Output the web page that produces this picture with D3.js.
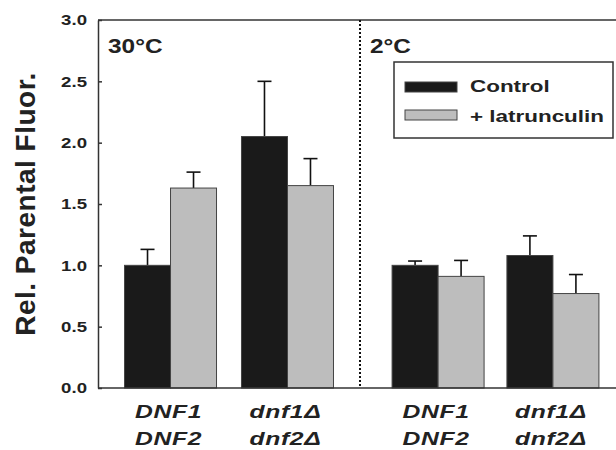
<!DOCTYPE html>
<html>
<head>
<meta charset="utf-8">
<script src="https://cdn.jsdelivr.net/npm/d3@7"></script>
<style>
  body { margin: 0; background: #fff; }
  text { font-family: "Liberation Sans", Arial, sans-serif; font-weight: bold; fill: #222; }
</style>
</head>
<body>
<div id="chart-container" style="width:616px;height:450px"></div>
<script>
// panels (temperature) and strains
let temps = ["30°C", "2°C"],
    strains = [["DNF1", "DNF2"], ["dnf1Δ", "dnf2Δ"]],
    series = ["Control", "+ latrunculin"],
    // values per panel, per strain
    controlVals = [[1.00, 2.05], [1.00, 1.08]],
    controlErr = [[0.13, 0.45], [0.035, 0.16]],
    latVals = [[1.63, 1.65], [0.91, 0.77]],
    latErr = [[0.13, 0.22], [0.13, 0.155]],
    yTicks = [0, 0.5, 1.0, 1.5, 2.0, 2.5, 3.0];

let svg = d3.select("#chart-container").append("svg").attr("width", 616).attr("height", 450),
    margin = { top: 20, left: 98, bottom: 62 },
    height = 450 - margin.top - margin.bottom,
    divider = 360,
    colors = ["#1a1a1a", "#bdbdbd"];

let y = d3.scaleLinear().domain([0, 3]).range([height + margin.top, margin.top]);

// one point scale per panel
let panels = [
    d3.scalePoint().domain([0, 1]).range([margin.left, divider]).padding(0.62),
    d3.scalePoint().domain([0, 1]).range([divider, 631]).padding(0.68)
];
let barW = 46;

// wide text, like the stretched original
function wideText(sel, x, yy, sx) {
    return sel.attr("transform", `translate(${x},${yy}) scale(${sx},1)`);
}

panels.forEach((x, p) => {
    let g = svg.append("g");
    [0, 1].forEach(i => {
        let cx = x(i);
        let bars = [
            { v: controlVals[p][i], e: controlErr[p][i], x0: cx - barW, c: colors[0] },
            { v: latVals[p][i], e: latErr[p][i], x0: cx, c: colors[1] }
        ];
        bars.forEach(b => {
            g.append("line")
                .attr("x1", b.x0 + barW / 2).attr("x2", b.x0 + barW / 2)
                .attr("y1", y(b.v)).attr("y2", y(b.v + b.e))
                .attr("stroke", "#111").attr("stroke-width", 1.6);
            g.append("line")
                .attr("x1", b.x0 + barW / 2 - 7).attr("x2", b.x0 + barW / 2 + 7)
                .attr("y1", y(b.v + b.e)).attr("y2", y(b.v + b.e))
                .attr("stroke", "#111").attr("stroke-width", 1.6);
            g.append("rect")
                .attr("x", b.x0).attr("width", barW)
                .attr("y", y(b.v)).attr("height", y(0) - y(b.v))
                .attr("fill", b.c)
                .attr("stroke", "#444").attr("stroke-width", 1);
        });
        strains[i].forEach((s, k) => {
            g.append("text")
                .call(wideText, cx - 2, 418 + k * 27, 1.3)
                .attr("text-anchor", "middle")
                .attr("font-size", 19).attr("font-style", "italic")
                .attr("letter-spacing", 0.5)
                .text(s);
        });
    });
    g.append("text")
        .call(wideText, (p === 0 ? margin.left : divider) + 10, 53, 1.22)
        .attr("font-size", 20)
        .text(temps[p]);
});

// frame lines
svg.append("line").attr("x1", margin.left).attr("x2", 616).attr("y1", y(3)).attr("y2", y(3))
    .attr("stroke", "#333").attr("stroke-width", 1.5);
svg.append("line").attr("x1", margin.left).attr("x2", 616).attr("y1", y(0)).attr("y2", y(0))
    .attr("stroke", "#333").attr("stroke-width", 1.5);
svg.append("line").attr("x1", divider).attr("x2", divider).attr("y1", y(3)).attr("y2", y(0))
    .attr("stroke", "#111").attr("stroke-width", 2).attr("stroke-dasharray", "2,2");

// y axis
let yAxis = svg.append("g")
    .attr("transform", `translate(${margin.left},0)`)
    .call(d3.axisLeft(y).tickValues(yTicks).tickFormat(d3.format(".1f")).tickSizeInner(-4).tickSizeOuter(0));
yAxis.select(".domain").attr("stroke", "#333").attr("stroke-width", 1.5);
yAxis.selectAll(".tick line").attr("stroke", "#333").attr("stroke-width", 1.5);
yAxis.selectAll(".tick text")
    .attr("x", null).attr("dy", "0.35em")
    .attr("transform", "translate(-11,0) scale(1.33,1)")
    .attr("font-size", 14)
    .style("font-family", "'Liberation Sans', Arial, sans-serif").style("font-weight", "bold").attr("fill", "#222");

svg.append("text")
    .attr("transform", `translate(35,${(y(0) + y(3)) / 2}) rotate(-90)`)
    .attr("text-anchor", "middle")
    .attr("font-size", 28).attr("letter-spacing", 0.5)
    .text("Rel. Parental Fluor.");

// legend
let lg = svg.append("g");
lg.append("rect").attr("x", 394).attr("y", 62).attr("width", 219).attr("height", 76)
    .attr("fill", "#fff").attr("stroke", "#333").attr("stroke-width", 1.5);
series.forEach((s, i) => {
    lg.append("rect").attr("x", 405).attr("y", 82 + i * 28).attr("width", 52).attr("height", 10)
        .attr("fill", colors[i]).attr("stroke", "#444").attr("stroke-width", 1);
    lg.append("text")
        .call(wideText, 470, 92 + i * 30, 1.36)
        .attr("font-size", 16.5)
        .text(s);
});
</script>
</body>
</html>
